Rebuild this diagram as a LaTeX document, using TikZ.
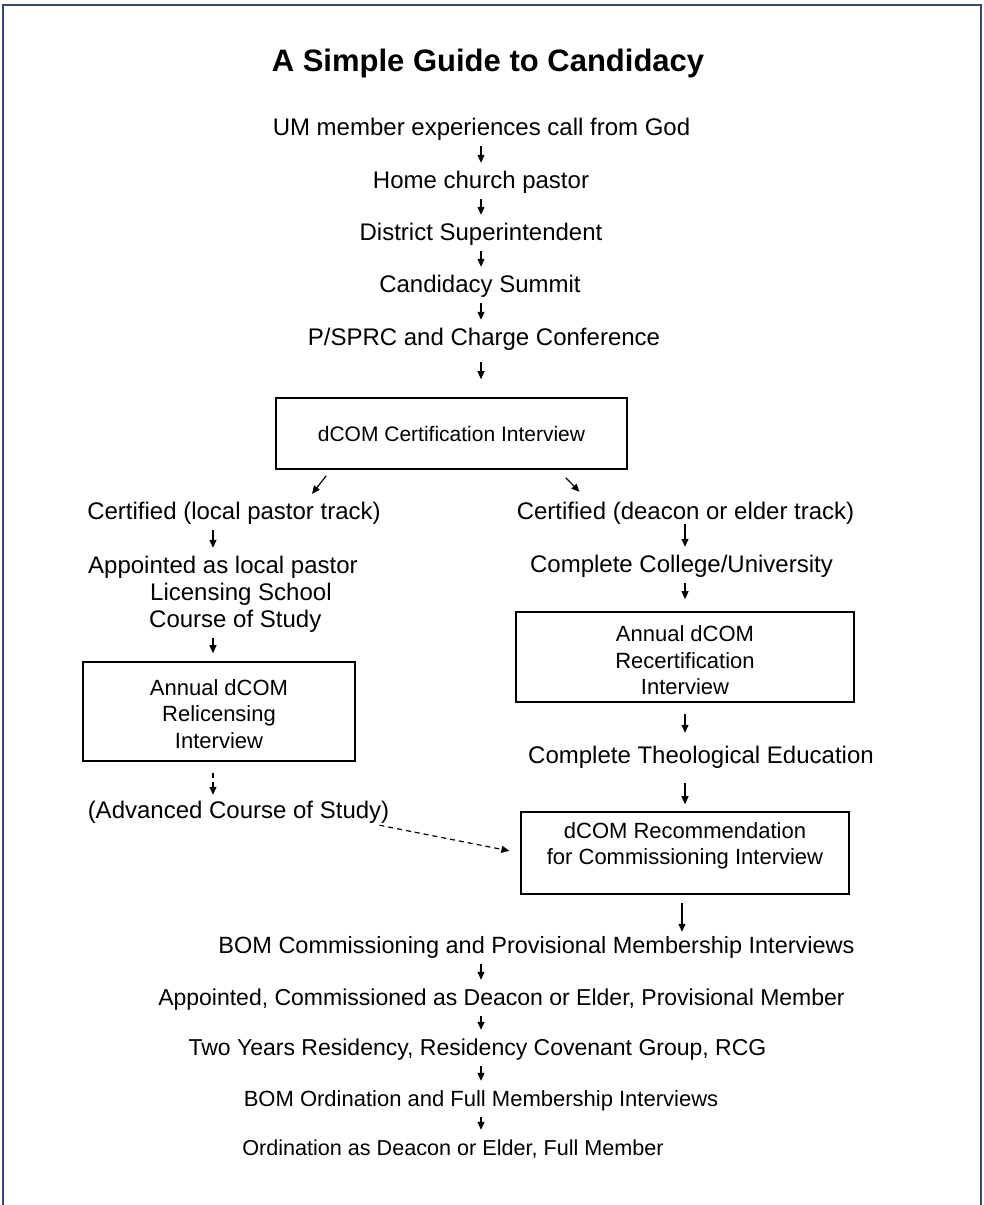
\documentclass[tikz,border=0pt]{standalone}
\usepackage{fontspec}
\setmainfont{Liberation Sans}
\usetikzlibrary{arrows.meta,calc}
\definecolor{framecol}{RGB}{59,72,100}
\begin{document}
\begin{tikzpicture}[x=1pt,y=-1pt,
  txt/.style={font=\fontsize{24}{28}\selectfont, inner sep=0pt, text height=17pt, text depth=5pt, anchor=base},
  btxt/.style={font=\fontsize{23}{28}\selectfont, inner sep=0pt, text height=17pt, text depth=5pt, anchor=base},
  boxn/.style={draw, line width=1.6pt, inner sep=0pt},
  boxlab/.style={align=center, inner sep=0pt, font=\fontsize{22}{26.5}\selectfont},
  arr/.style={-{Triangle[width=7pt,length=8pt]}, line width=1.2pt, shorten <=6pt, shorten >=8pt},
  darr/.style={arr, dash pattern=on 5pt off 4pt},
]
\useasboundingbox (0,0) rectangle (984,1205);
\draw[framecol, line width=2.6pt] (3,1208) -- (3,5) -- (981,5) -- (981,1208);

\node[font=\fontsize{31}{35}\selectfont\bfseries, inner sep=0pt, anchor=base] (title) at (488,71) {A Simple Guide to Candidacy};

\coordinate (cx) at (481,0);
\coordinate (lx) at (213,0);
\coordinate (rx) at (685,0);
\coordinate (bx) at (682,0);

\node[txt] (s1) at (481.5,135) {UM member experiences call from God};
\node[txt] (s2) at (481,188) {Home church pastor};
\node[txt] (s3) at (481,240) {District Superintendent};
\node[txt] (s4) at (480,292) {Candidacy Summit};
\node[txt] (s5) at (484,345) {P/SPRC and Charge Conference};
\node[boxn, minimum width=351pt, minimum height=71pt, font=\fontsize{21}{25}\selectfont] (b1) at (451.5,433.5) {dCOM Certification Interview};

\node[txt] (l1) at (234,519) {Certified (local pastor track)};
\node[txt, anchor=base west] (l2) at (88,573) {Appointed as local pastor};
\node[txt, anchor=base west] (l3) at (150,600) {Licensing School};
\node[txt, anchor=base west] (l4) at (149,627) {Course of Study};
\node[boxn, minimum width=272pt, minimum height=99pt] (bL) at (219,711.5) {};
\node[boxlab] (bLt) at (219,714) {Annual dCOM\\Relicensing\\Interview};
\node[txt] (l5) at (238.5,818) {(Advanced Course of Study)};

\node[txt] (r1) at (685.5,519) {Certified (deacon or elder track)};
\node[txt] (r2) at (681.5,572) {Complete College/University};
\node[boxn, minimum width=338pt, minimum height=90pt] (bR) at (685,657) {};
\node[boxlab] (bRt) at (685,660.5) {Annual dCOM\\Recertification\\Interview};
\node[txt] (r3) at (701,763) {Complete Theological Education};
\node[boxn, minimum width=328pt, minimum height=82pt] (b2) at (685,853) {};
\node[boxlab, font=\fontsize{22}{26}\selectfont] (b2t) at (685,846) {dCOM Recommendation\\for Commissioning Interview};

\node[btxt, font=\fontsize{23.5}{28}\selectfont] (m1) at (536.5,953) {BOM Commissioning and Provisional Membership Interviews};
\node[btxt] (m2) at (501.5,1005) {Appointed, Commissioned as Deacon or Elder, Provisional Member};
\node[btxt] (m3) at (477.5,1055) {Two Years Residency, Residency Covenant Group, RCG};
\node[btxt, font=\fontsize{22}{28}\selectfont] (m4) at (481,1106) {BOM Ordination and Full Membership Interviews};
\node[btxt, font=\fontsize{21.6}{28}\selectfont] (m5) at (453,1155) {Ordination as Deacon or Elder, Full Member};

% top column
\draw[arr] (s1.south -| cx) -- (s2.north -| cx);
\draw[arr] (s2.south -| cx) -- (s3.north -| cx);
\draw[arr] (s3.south -| cx) -- (s4.north -| cx);
\draw[arr] (s4.south -| cx) -- (s5.north -| cx);
\draw[arr, shorten <=12pt, shorten >=18pt] (s5.south -| cx) -- (b1.north -| cx);
% split
\draw[arr, shorten <=0pt, shorten >=0pt] ($(b1.south west)+(51,6)$) -- ($(l1.north)+(78,-8)$);
\draw[arr, shorten <=0pt, shorten >=0pt] ($(b1.south east)+(-62,8)$) -- ($(r1.north)+(-106,-10)$);
% left column
\draw[arr] (l1.south -| lx) -- (l2.north -| lx);
\draw[arr] (l4.south -| lx) -- (bL.north -| lx);
\draw[darr, shorten <=11pt, shorten >=6pt] (bL.south -| lx) -- (l5.north -| lx);
\draw[darr, shorten <=0pt, shorten >=11pt] ($(l5.south east)+(-10,2)$) -- (b2.west);
% right column
\draw[arr, shorten <=0pt] (r1.south -| rx) -- (r2.north -| rx);
\draw[arr, shorten >=12pt] (r2.south -| rx) -- (bR.north -| rx);
\draw[arr, shorten <=11pt, shorten >=13pt] (bR.south -| rx) -- (r3.north -| rx);
\draw[arr, shorten <=15pt, shorten >=7pt] (r3.south -| rx) -- (b2.north -| rx);
\draw[arr, shorten <=8pt, shorten >=4pt] (b2.south -| bx) -- (m1.north -| bx);
% bottom column
\draw[arr] (m1.south -| cx) -- (m2.north -| cx);
\draw[arr] (m2.south -| cx) -- (m3.north -| cx);
\draw[arr] (m3.south -| cx) -- (m4.north -| cx);
\draw[arr] (m4.south -| cx) -- (m5.north -| cx);
\end{tikzpicture}
\end{document}
